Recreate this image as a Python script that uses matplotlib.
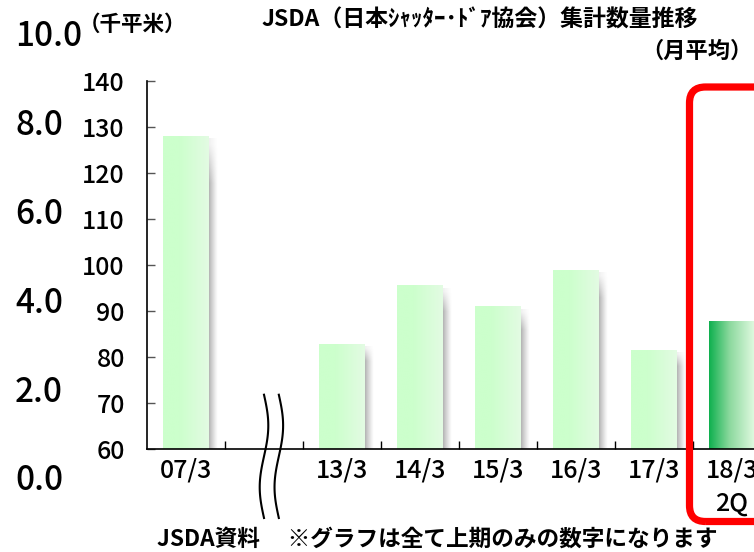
import numpy as np
import matplotlib
matplotlib.use("Agg")
import matplotlib.pyplot as plt
from matplotlib.patches import FancyBboxPatch
from matplotlib.transforms import IdentityTransform

plt.rcParams['font.family'] = ['Noto Sans CJK JP', 'DejaVu Sans']

# ---- data ----
categories = ["07/3", "", "13/3", "14/3", "15/3", "16/3", "17/3", "18/3\n2Q"]
values = [128.0, np.nan, 82.8, 95.5, 90.9, 98.9, 81.5, 87.8]
highlight = [False, False, False, False, False, False, False, True]
y_ticks = [60, 70, 80, 90, 100, 110, 120, 130, 140]
outer_ticks = [0, 2, 4, 6, 8, 10]
outer_labels = ["0.0", "2.0", "4.0", "6.0", "8.0", "10.0"]

title = "JSDA（日本ｼｬｯﾀｰ･ﾄﾞｱ協会）集計数量推移"
subtitle = "（月平均）"
unit = "（千平米）"
footer = "JSDA資料　 ※グラフは全て上期のみの数字になります"

W, H = 754, 552
fig = plt.figure(figsize=(W / 100, H / 100), dpi=100)

def px(x0, y0top, w, h):
    return [x0 / W, 1 - (y0top + h) / H, w / W, h / H]

num_font = ['Noto Sans CJK JP', 'DejaVu Sans']

# main axes (extends beyond the right edge, as the reference is cropped)
ax = fig.add_axes(px(147, 81, 8 * 78, 368))
x = np.arange(len(categories))
ax.set_xlim(-0.5, len(categories) - 0.5)
ax.set_ylim(y_ticks[0], y_ticks[-1])

bars = ax.bar(x, values, width=0.58, color='none', edgecolor='none', zorder=2)

light = np.array([[0.80, 1.00, 0.80], [0.80, 1.00, 0.80], [0.89, 0.985, 0.89]])
dark = np.array([[0.06, 0.69, 0.31], [0.55, 0.85, 0.62], [0.88, 0.98, 0.88]])
ybot = y_ticks[0]
for b, hl in zip(bars.patches, highlight):
    h = b.get_height()
    if not np.isfinite(h):
        continue
    x0, w = b.get_x(), b.get_width()
    # soft shadow on the right
    n, m = 32, 24
    sh = np.zeros((m, n, 4))
    sh[..., :3] = 0.45
    horiz = np.linspace(0.6, 0.0, n) ** 1.2
    vert = np.ones(m)
    vert[:4] = np.linspace(0.2, 1.0, 4)
    sh[..., 3] = vert[:, None] * horiz[None, :]
    ax.imshow(sh, extent=(x0 + w, x0 + w + 0.11, ybot, h - 0.6), aspect='auto',
              interpolation='bilinear', zorder=1.5)
    # gradient fill
    stops = dark if hl else light
    t = np.linspace(0, 1, 64)
    pos = [0, 0.35, 1] if not hl else [0, 0.45, 1]
    grad = np.stack([np.interp(t, pos, stops[:, c]) for c in range(3)], axis=-1)[None, :, :]
    ax.imshow(grad, extent=(x0, x0 + w, ybot, h), aspect='auto',
              interpolation='bilinear', zorder=2)

ax.set_xlim(-0.5, len(categories) - 0.5)
ax.set_ylim(y_ticks[0], y_ticks[-1])

for s in ['top', 'right']:
    ax.spines[s].set_visible(False)
for s in ['left', 'bottom']:
    ax.spines[s].set_linewidth(1.2)
    ax.spines[s].set_zorder(3)

ax.set_yticks(y_ticks)
ax.set_yticklabels([str(v) for v in y_ticks], family=num_font, fontsize=18,
                   fontweight='medium')
ax.tick_params(axis='y', direction='in', length=6, width=1, pad=16, color='#555555')
ax.set_xticks(x)
ax.set_xticklabels(categories, family=num_font, fontsize=18, linespacing=1.35,
                   fontweight='medium')
ax.tick_params(axis='x', length=0, pad=6)
ax.set_xticks(x[:-1] + 0.5, minor=True)
ax.tick_params(axis='x', which='minor', direction='in', length=6, width=1)

# axis break marks
yy = np.linspace(71.8, 45.0, 100)
tt = np.linspace(0, 1, 100)
for xc in (1.0, 1.19):
    xx = xc + 0.055 * np.sin(2 * np.pi * tt)
    ax.plot(xx, yy, color='black', lw=1.5, clip_on=False, zorder=4)

# outer (left) scale
ax2 = fig.add_axes(px(15, 33, 0.001, 444))
ax2.set_ylim(outer_ticks[0], outer_ticks[-1])
ax2.yaxis.tick_right()
ax2.set_yticks(outer_ticks)
ax2.set_yticklabels(outer_labels, family=num_font, fontsize=24, fontweight='medium')
ax2.tick_params(axis='y', length=0, pad=0)
ax2.set_xticks([])
for s in ax2.spines.values():
    s.set_visible(False)
ax2.patch.set_visible(False)

# texts
fig.text(79 / W, 1 - 24 / H, unit, fontsize=15.5, fontweight='bold', va='center', ha='left')
fig.text(480 / W, 1 - 20 / H, title, fontsize=16.5, fontweight='bold', va='center', ha='center')
fig.text(753 / W, 1 - 51 / H, subtitle, fontsize=16, fontweight='bold', va='center', ha='right')
fig.text(157 / W, 1 - 539 / H, footer, fontsize=16.3, fontweight='bold', va='center', ha='left')

# red rounded highlight frame (pixel coordinates)
frame = FancyBboxPatch((689.5, H - 521.5), 200, 521.5 - 87,
                       boxstyle="round,pad=0,rounding_size=16",
                       transform=IdentityTransform(), fill=False,
                       edgecolor='#ff0000', linewidth=5.2, zorder=10)
fig.patches.append(frame)

fig.savefig("out.png", dpi=100)
